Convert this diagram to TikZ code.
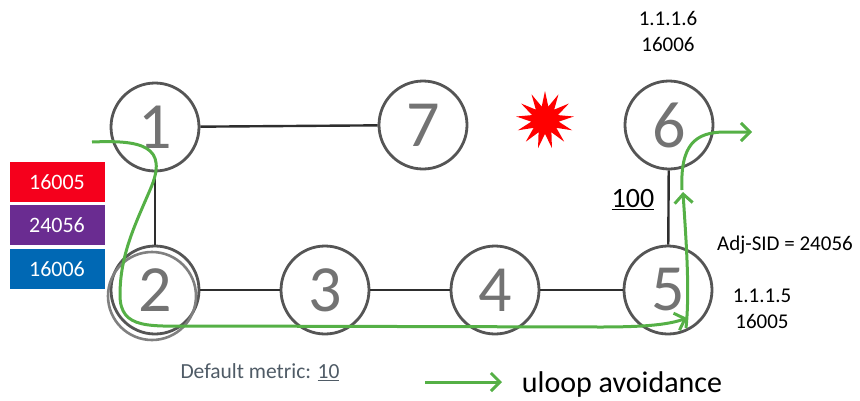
\documentclass[tikz,border=0pt]{standalone}
\usepackage{fontspec}
\setmainfont{Carlito}
\usetikzlibrary{arrows.meta,shapes.geometric,positioning}
\definecolor{ringgray}{HTML}{555555}
\definecolor{numgray}{HTML}{737373}
\definecolor{linkgray}{HTML}{2E2E2E}
\definecolor{pathgreen}{HTML}{55B046}
\definecolor{sidred}{HTML}{F5001C}
\definecolor{sidpurple}{HTML}{6A2C91}
\definecolor{sidblue}{HTML}{0068B4}
\definecolor{metricgray}{HTML}{4F5B66}
\begin{document}
\begin{tikzpicture}[
			x=1pt, y=-1pt,
			router/.style = {draw=ringgray, circle, line width=2.8pt, minimum size=88pt, inner sep=0pt,
				text=numgray, font=\fontsize{66}{66}\selectfont},
			link/.style = {draw=linkgray, line width=2.4pt},
			sid/.style = {minimum width=95pt, minimum height=40pt, inner sep=0pt, text=white,
				font=\fontsize{22}{22}\selectfont},
			lbl/.style = {align=center, font=\fontsize{21}{26}\selectfont},
			uloop/.style = {draw=pathgreen, line width=3pt, -{Straight Barb[length=9pt,width=18pt,line width=3pt]}},
			]
			\useasboundingbox (0,0) rectangle (860,400);
			% routers
			\node[router] (r1) at (155,127) {1};
			\node[router] (r7) at (423,125) {7};
			\node[router] (r6) at (669,125) {6};
			\node[router] (r2) at (155,290) {2};
			\node[router] (r3) at (325,290) {3};
			\node[router] (r4) at (495,290) {4};
			\node[router] (r5) at (668,290) {5};
			\draw[draw=gray, line width=2.6pt] ([shift={(-3pt,-6pt)}]r2.center) circle (44pt);
			% links
			\draw[link] (r1) -- (r7);
			\draw[link] (r1) -- (r2);
			\draw[link] (r2) -- (r3);
			\draw[link] (r3) -- (r4);
			\draw[link] (r4) -- (r5);
			\draw[link] (r5) -- (r6);
			% label stack
			\node[sid, fill=sidred] (s1) at (57,182) {16005};
			\node[sid, fill=sidpurple, below=3pt of s1] (s2) {24056};
			\node[sid, fill=sidblue, below=3pt of s2] (s3) {16006};
			% failure
			\node[star, star points=13, star point ratio=2.1, fill=red, minimum size=58pt, inner sep=0pt] (boom) at (545,120) {};
			% texts
			\node[lbl] (lo6) at (668,31) {1.1.1.6\\16006};
			\node[lbl] (lo5) at (762,309) {1.1.1.5\\16005};
			\node[lbl] (adj) at (785,245) {Adj-SID = 24056};
			\node[font=\fontsize{28}{28}\selectfont] (m56) at (633,200) {\underline{100}};
			\node[font=\fontsize{21.5}{21.5}\selectfont, text=metricgray] (dm) at (260,372) {Default metric: \underline{10}};
			\node[font=\fontsize{30}{30}\selectfont] (leg) at (622,384) {uloop avoidance};
			% green paths
			\coordinate (p0) at (92,142);
			\coordinate (p1) at (687,318);
			\coordinate (q0) at (686,328);
			\coordinate (q1) at (683,192);
			\coordinate (t0) at (682,190);
			\coordinate (t1) at (752,132);
			\coordinate (k0) at (425,382);
			\coordinate (k1) at (502,382);
			\draw[uloop] (p0) .. controls (140,140) and (170,145) .. (150,190)
				.. controls (135,225) and (120,255) .. (120,295)
				.. controls (120,330) and (150,326) .. (200,326)
				-- (600,327) .. controls (650,327) and (670,324) .. (p1);
			\draw[uloop] (q0) .. controls (690,290) and (686,240) .. (q1);
			\draw[uloop] (t0) .. controls (680,145) and (695,132) .. (725,132) -- (t1);
			\draw[uloop] (k0) -- (k1);
		\end{tikzpicture}
\end{document}
